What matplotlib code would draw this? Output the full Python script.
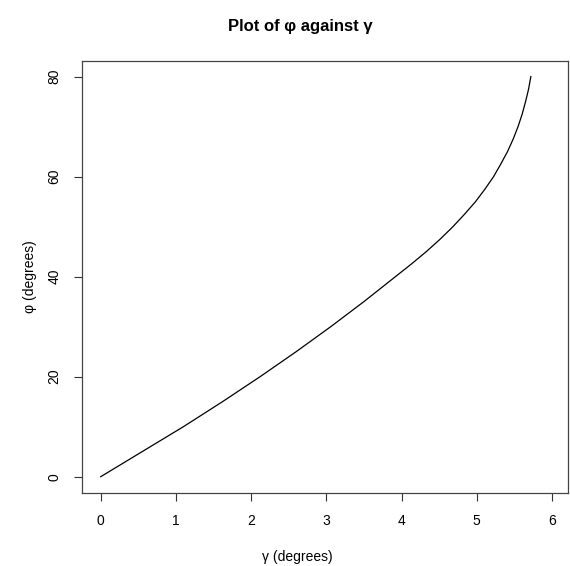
import matplotlib
matplotlib.use("Agg")
import matplotlib.pyplot as plt

plt.rcParams['font.family'] = ['Liberation Sans', 'DejaVu Sans']

# values
phi = [0, 5, 10, 15, 20, 25, 30, 35, 40, 42.5, 45, 47.5, 50, 52.5, 55,
       57.5, 60, 62.5, 65, 67.5, 70, 72.5, 75, 77.5, 80]
gamma = [0, 0.55, 1.10, 1.62, 2.12, 2.60, 3.06, 3.50, 3.92, 4.13, 4.33,
         4.515, 4.685, 4.84, 4.985, 5.11, 5.225, 5.32, 5.41, 5.485, 5.55,
         5.605, 5.65, 5.69, 5.72]

x_ticks = [0, 1, 2, 3, 4, 5, 6]
y_ticks = [0, 20, 40, 60, 80]

W, H = 570, 566
fig = plt.figure(figsize=(W / 100, H / 100), dpi=100)
ax = fig.add_axes([82 / W, 1 - 493 / H, (568 - 82) / W, (493 - 61) / H])

ax.plot(gamma, phi, color='black', linewidth=0.9)

ax.set_xlim(-0.249, 6.214)
ax.set_ylim(-3.26, 83.1)
ax.set_xticks(x_ticks)
ax.set_yticks(y_ticks)
ax.tick_params(axis='both', direction='out', length=6, width=0.8,
               labelsize=10, pad=9, color='#333333')
plt.setp(ax.get_yticklabels(), rotation=90, va='center')
for s in ax.spines.values():
    s.set_linewidth(0.9)
    s.set_color('#444444')

fig.text(300 / W, 1 - 26 / H, 'Plot of φ against γ', ha='center', va='center',
         fontsize=12, fontweight='bold')
fig.text(297 / W, 1 - 557 / H, 'γ (degrees)', ha='center', va='center', fontsize=10)
fig.text(30 / W, 1 - 277 / H, 'φ (degrees)', ha='center', va='center',
         rotation=90, fontsize=10)

fig.savefig('out.png', dpi=100)
